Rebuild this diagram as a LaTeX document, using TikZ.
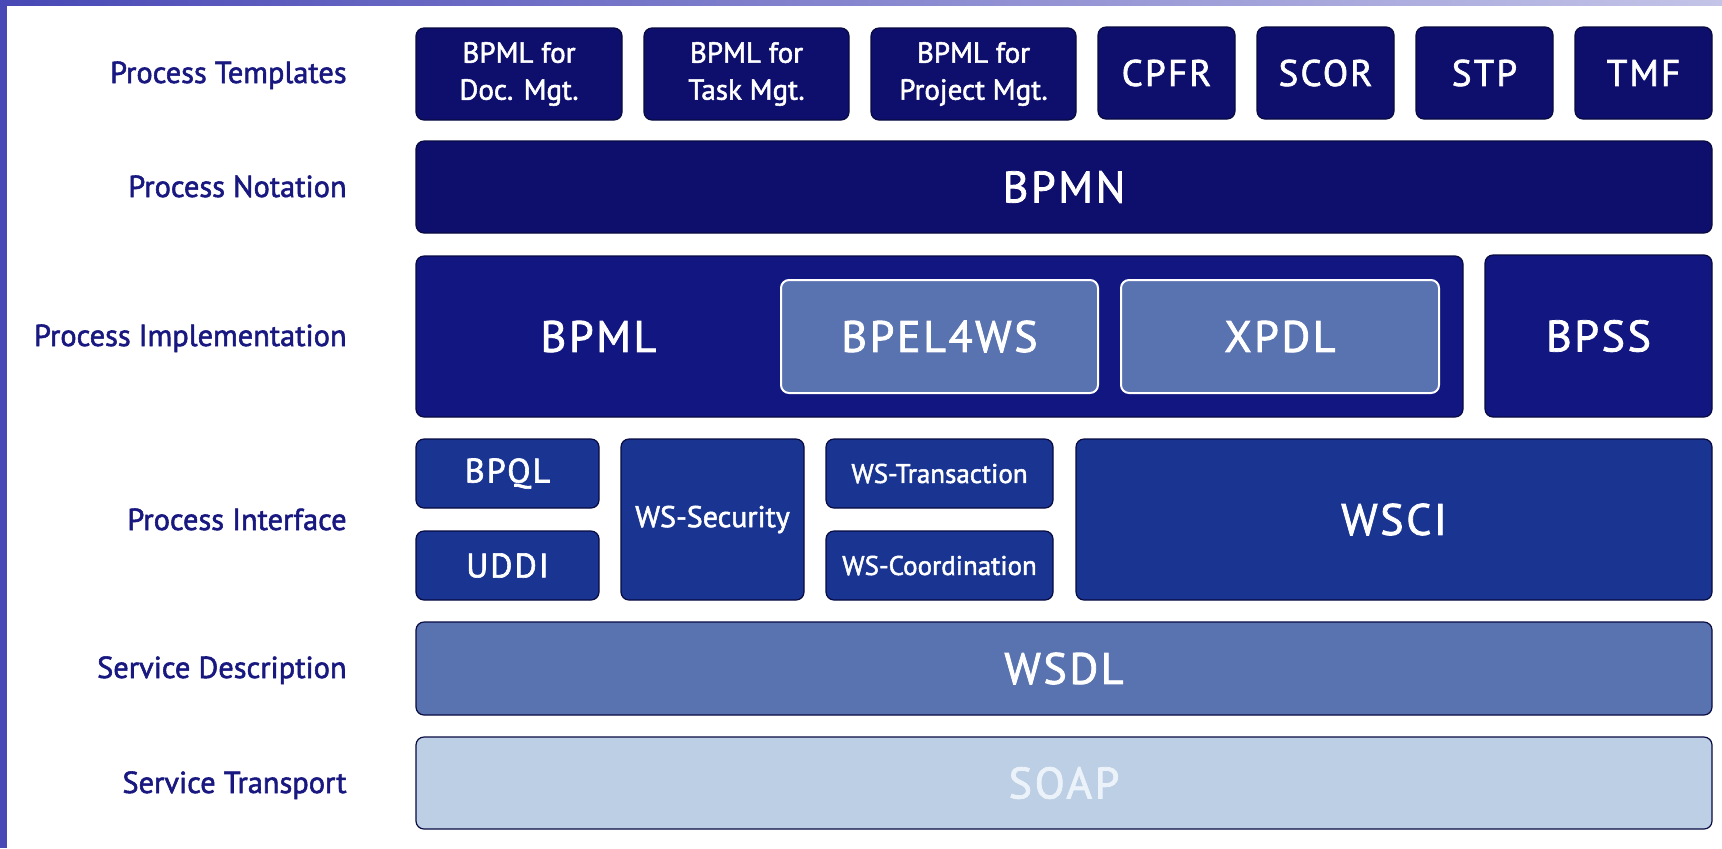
\documentclass[tikz,border=0pt]{standalone}
\usepackage{fontspec}
\setmainfont{PT Sans}
\newfontfamily\medium{PT Sans}[FakeBold=1.8]
\newfontfamily\spaced{PT Sans}[FakeBold=1.8, LetterSpace=6]
\usetikzlibrary{calc}

\definecolor{navytpl}{RGB}{14,15,108}
\definecolor{navyimpl}{RGB}{17,22,128}
\definecolor{royal}{RGB}{25,52,145}
\definecolor{steel}{RGB}{89,114,176}
\definecolor{pale}{RGB}{188,207,228}
\definecolor{paletext}{RGB}{236,242,249}
\definecolor{labelblue}{RGB}{24,24,128}
\definecolor{edgeblue}{RGB}{8,10,64}
\definecolor{frameA}{RGB}{72,72,182}
\definecolor{frameB}{RGB}{196,196,232}

\newcommand{\fs}[1]{\spaced\fontsize{#1}{1.25\dimexpr#1pt\relax}\selectfont}

\begin{document}
\begin{tikzpicture}[x=0.5pt, y=-0.5pt,
    layer/.style={draw=edgeblue, line width=0.6pt, rounded corners=4pt,
      inner sep=0pt, outer sep=0pt, text=white, align=center},
    rowlabel/.style={anchor=base east, inner sep=0pt, text=labelblue,
      font=\medium\fontsize{15.2}{18}\selectfont},
    big/.style={font=\fs{22}}]
  % frame
  \useasboundingbox (0,0) rectangle (1722,848);
  \fill[frameA] (0,0) rectangle (7,848);
  \fill[left color=frameA, right color=frameB] (0,0) rectangle (1722,5);

  % row labels
  \node[rowlabel] (lbltpl)  at (347,83)  {Process Templates};
  \node[rowlabel] (lblnot)  at (347,197) {Process Notation};
  \node[rowlabel] (lblimpl) at (347,346) {Process Implementation};
  \node[rowlabel] (lblint)  at (347,530) {Process Interface};
  \node[rowlabel] (lbldesc) at (347,678) {Service Description};
  \node[rowlabel] (lbltrans) at (347,793) {Service Transport};

  % process templates
  \node[layer, fill=navytpl, minimum width=103pt, minimum height=46pt,
    font=\medium\fontsize{14.5}{18.5}\selectfont] (doc) at (519,74) {BPML for\\Doc. Mgt.};
  \node[layer, fill=navytpl, minimum width=102.5pt, minimum height=46pt,
    font=\medium\fontsize{14.5}{18.5}\selectfont] (task) at (746.5,74) {BPML for\\Task Mgt.};
  \node[layer, fill=navytpl, minimum width=102.5pt, minimum height=46pt,
    font=\medium\fontsize{14.5}{18.5}\selectfont] (proj) at (973.5,74) {BPML for\\Project Mgt.};
  \node[layer, fill=navytpl, minimum width=68.5pt, minimum height=46pt, font=\fs{18.5}] (cpfr) at (1166.5,73) {\raisebox{-1.5pt}{CPFR}};
  \node[layer, fill=navytpl, minimum width=68.5pt, minimum height=46pt, font=\fs{18.5}] (scor) at (1325.5,73) {\raisebox{-1.5pt}{SCOR}};
  \node[layer, fill=navytpl, minimum width=68.5pt, minimum height=46pt, font=\fs{18.5}] (stp) at (1484.5,73) {\raisebox{-1.5pt}{STP}};
  \node[layer, fill=navytpl, minimum width=68.5pt, minimum height=46pt, font=\fs{18.5}] (tmf) at (1643.5,73) {\raisebox{-1.5pt}{TMF}};

  % process notation
  \node[layer, fill=navytpl, big, minimum width=648pt, minimum height=46pt] (bpmn) at (1064,187) {BPMN};

  % process implementation
  \node[layer, fill=navyimpl, minimum width=523.5pt, minimum height=80.5pt] (bpml) at (939.5,336.5) {};
  \node[layer, fill=steel, draw=white, line width=1pt, big, minimum width=158.5pt, minimum height=56.5pt] (bpel) at (939.5,336.5) {BPEL4WS};
  \node[layer, fill=steel, draw=white, line width=1pt, big, minimum width=159pt, minimum height=56.5pt] (xpdl) at (1280,336.5) {XPDL};
  \node[big, text=white] (bpmltext) at ($(bpml.west)!0.5!(bpel.west)$) {BPML};
  \node[layer, fill=navyimpl, big, minimum width=113.5pt, minimum height=81pt] (bpss) at (1598.5,336) {BPSS};

  % process interface
  \node[layer, fill=royal, font=\fs{17}, minimum width=91.5pt, minimum height=34.5pt] (bpql) at (507.5,473.5) {BPQL};
  \node[layer, fill=royal, font=\fs{17}, minimum width=91.5pt, minimum height=34.5pt] (uddi) at (507.5,565.5) {UDDI};
  \node[layer, fill=royal, font=\medium\fontsize{15}{18}\selectfont, minimum width=91.5pt, minimum height=80.5pt] (wssec) at (712.5,519.5) {WS-Security};
  \node[layer, fill=royal, font=\medium\fontsize{13.5}{16}\selectfont, minimum width=113.5pt, minimum height=34.5pt] (wstx) at (939.5,473.5) {WS-Transaction};
  \node[layer, fill=royal, font=\medium\fontsize{13.5}{16}\selectfont, minimum width=113.5pt, minimum height=34.5pt] (wscoord) at (939.5,565.5) {WS-Coordination};
  \node[layer, fill=royal, big, minimum width=318pt, minimum height=80.5pt] (wsci) at (1394,519.5) {WSCI};

  % service description and transport
  \node[layer, fill=steel, big, minimum width=648pt, minimum height=46.5pt] (wsdl) at (1064,668.5) {WSDL};
  \node[layer, fill=pale, text=paletext, big, minimum width=648pt, minimum height=46pt] (soap) at (1064,783) {SOAP};
\end{tikzpicture}
\end{document}
